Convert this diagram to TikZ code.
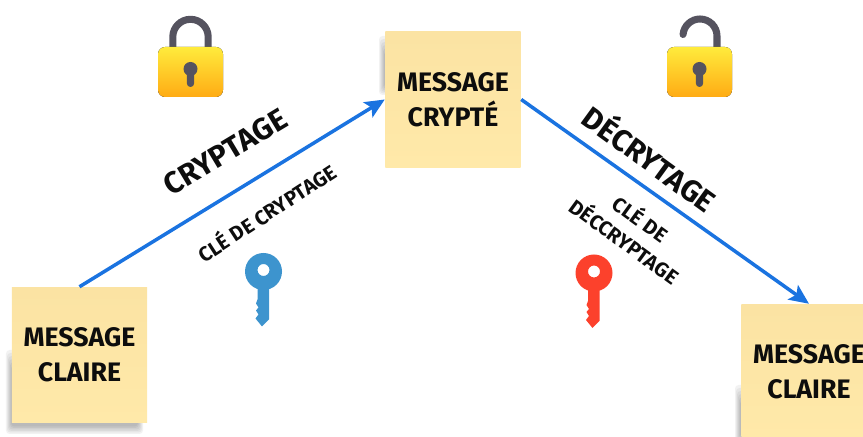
\documentclass[tikz,border=0pt]{standalone}
\usepackage{fontspec}
\setmainfont{Fira Sans}
\usetikzlibrary{arrows.meta}
\definecolor{mainBlack}{gray}{0.05}
\definecolor{arrowBlue}{HTML}{1A73E0}
\definecolor{noteTop}{HTML}{FBE3A3}
\definecolor{noteBottom}{HTML}{FFE9A9}
\definecolor{lockGrey}{HTML}{55535F}
\definecolor{lockTop}{HTML}{FFEB3C}
\definecolor{lockBottom}{HTML}{FFAB14}
\definecolor{keyBlue}{HTML}{3D94CE}
\definecolor{keyRed}{HTML}{FC412C}

\tikzset{
    notebox/.style={minimum size=1.35cm, inner sep=0pt, align=center, top color=noteTop, bottom color=noteBottom,
        font=\fontsize{7.6}{10}\selectfont\bfseries, text=mainBlack},
    softshadow/.style={fill=black, opacity=.05, rounded corners=1pt},
    steparrow/.style={-{Stealth[length=5.6pt,width=5pt,inset=1.2pt]}, line width=1pt, arrowBlue},
    biglabel/.style={font=\fontsize{8.6}{10}\selectfont\bfseries, text=mainBlack},
    smalllabel/.style={font=\fontsize{5.8}{7.8}\selectfont\bfseries, text=mainBlack, align=center}
}

\newcommand{\softblur}[4]{
    \foreach \d in {0,1,2,3,4,5}
        \fill[softshadow] (#1+\d,#2+3*\d) rectangle (#3-\d,#4-1.5*\d);
}
\newcommand{\lockbody}[1]{
    \fill[rounded corners=2pt, top color=lockTop, bottom color=lockBottom] (#1-32.5,47) rectangle (#1+32.5,97);
    \fill[lockGrey] (#1,69) circle (7);
    \fill[lockGrey, rounded corners=1pt] (#1-3.6,70) rectangle (#1+3.6,87);
}
\newcommand{\keyicon}[3]{
    \begin{scope}[shift={(#1,#2)}]
        \fill[#3, even odd rule] (0,0) circle (18.5) (0,-1.5) circle (6);
        \fill[#3] (5.5,10) -- (5.5,48) -- (-1.5,55) -- (-8,47) -- (-5,43) -- (-7.5,39) -- (-5,36)
            -- (-7.5,32) -- (-6,28) -- (-6,10) -- cycle;
    \end{scope}
}

\begin{document}
\begin{tikzpicture}[x=0.01cm, y=-0.01cm]
    \useasboundingbox (0,0) rectangle (863,437);
    \clip (0,0) rectangle (863,437);

    % ombres
    \softblur{6}{350}{143}{434}
    \softblur{379}{36}{400}{95}
    \softblur{735}{385}{800}{445}

    \node[notebox] (clairA) at (79.5,355) {MESSAGE\\CLAIRE};
    \node[notebox] (crypte) at (453,99.5) {MESSAGE\\CRYPTÉ};
    \node[notebox] (clairB) at (809,372) {MESSAGE\\CLAIRE};

    \draw[steparrow] (clairA.north) -- (crypte.west);
    \draw[steparrow] (crypte.east) -- (clairB.north);

    \node[biglabel, rotate=31] (cryptage) at (225,152) {CRYPTAGE};
    \node[biglabel, rotate=-36] (decryptage) at (651,157) {DÉCRYTAGE};
    \node[smalllabel, rotate=33] (clefA) at (266,212) {CLÉ DE CRYPTAGE};
    \node[smalllabel, rotate=-36] (clefB) at (633.5,229) {CLÉ DE\\DÉCCRYPTAGE};

    % cadenas
    \draw[lockGrey, line width=2pt] (172.8,47) -- (172.8,37) arc[start angle=180, end angle=360, radius=17.7] -- (208.2,47);
    \lockbody{190.5}
    \draw[lockGrey, line width=2pt, line cap=round] (717,47) -- (717,36) arc[start angle=0, end angle=-175, radius=17];
    \lockbody{699.5}

    % cles
    \keyicon{263.5}{271.5}{keyBlue}
    \keyicon{594}{273}{keyRed}
\end{tikzpicture}
\end{document}
